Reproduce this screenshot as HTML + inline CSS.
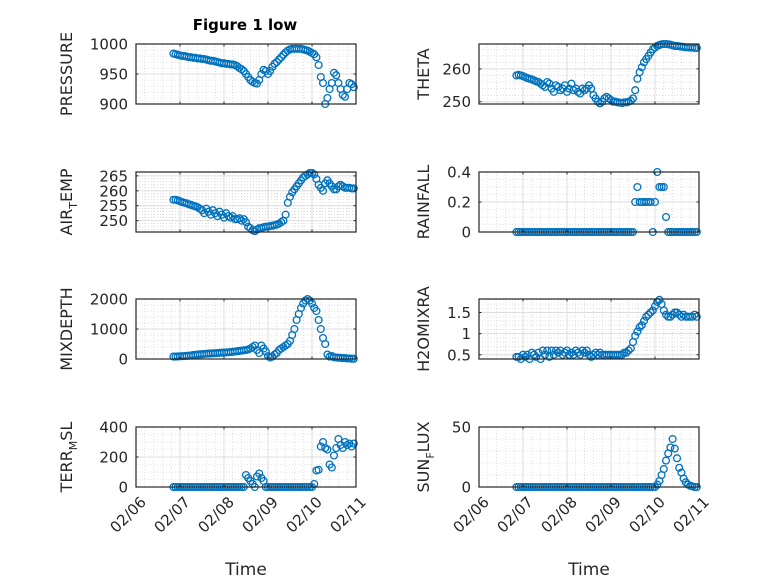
<!DOCTYPE html>
<html><head><meta charset="utf-8">
<style>
body{margin:0;background:#fff;}
svg{display:block;font-family:"Liberation Sans",sans-serif;}
.tk{font-family:"DejaVu Sans","Liberation Sans",sans-serif;}
</style></head>
<body>
<svg id="fig" width="778" height="583" viewBox="0 0 778 583">
<rect width="778" height="583" fill="#fff"/>
<text x="245" y="30" text-anchor="middle" font-size="15" font-weight="bold" fill="#000" class="tk">Figure 1 low</text>
</svg>
<script>
const times=[6.85,6.90,6.95,7.00,7.05,7.10,7.15,7.20,7.25,7.30,
7.35,7.40,7.45,7.50,7.55,7.60,7.65,7.70,7.75,7.80,
7.85,7.90,7.95,8.00,8.05,8.10,8.15,8.20,8.25,8.30,
8.35,8.40,8.45,8.50,8.55,8.60,8.65,8.70,8.75,8.80,
8.85,8.90,8.95,9.00,9.05,9.10,9.15,9.20,9.25,9.30,
9.35,9.40,9.45,9.50,9.55,9.60,9.65,9.70,9.75,9.80,
9.85,9.90,9.95,10.00,10.05,10.10,10.15,10.20,10.25,10.30,
10.35,10.40,10.45,10.50,10.55,10.60,10.65,10.70,10.75,10.80,
10.85,10.90,10.95];
const pressure=[984,983,982,981,980,980,979,978,978,977,
977,976,976,975,975,974,973,972,972,971,
970,969,968,968,967,967,966,966,965,963,
960,958,955,950,945,940,937,935,934,940,
950,957,955,950,955,962,967,970,974,978,
982,986,989,991,992,992,992,992,992,991,
990,989,987,985,983,978,965,945,935,900,
910,925,935,952,948,935,925,915,912,925,
935,933,928];
const theta=[258,258.2,258,257.8,257.5,257.2,257,256.8,256.5,256.2,
256,255.5,255,254.5,256,255.5,254,253,255,254.5,
253.5,254,255,253,254,255.5,253.5,254,253,252.5,
254,253.5,254,255,254,252,251,250,249.5,250,
251,251.5,251,250.5,250,250,249.8,249.7,249.6,249.8,
249.8,250,250.3,251,253.5,257,259,260.5,262,263,
264,265,266,266.5,267,267.3,267.5,267.6,267.6,267.5,
267.4,267.2,267,267,266.9,266.8,266.7,266.6,266.6,266.5,
266.5,266.4,266.4];
const airTemp=[257,257,256.8,256.5,256.2,256,255.8,255.5,255.3,255,
254.8,254.5,254,253.5,252.5,254,253,252,253.5,252.5,
251.5,253,252,251,252.5,251.5,251,251.5,250.5,250.5,
250.8,250,250.5,249.5,248,247.5,246.8,246.5,247,247.5,
247.5,247.8,248,248,248.2,248.3,248.5,248.7,249,249.5,
250,252,256,258,259.5,260.5,261.5,262.5,263.5,264.5,
265,265.5,266,266,265.5,264,262,261,260,262.5,
263.5,262.5,261.5,260.5,260.5,261.5,262,261.5,261,261,
261,260.8,260.8];
const rainfall=[0,0,0,0,0,0,0,0,0,0,
0,0,0,0,0,0,0,0,0,0,
0,0,0,0,0,0,0,0,0,0,
0,0,0,0,0,0,0,0,0,0,
0,0,0,0,0,0,0,0,0,0,
0,0,0,0,0.2,0.3,0.2,0.2,0.2,0.2,
0.2,0.2,0,0.2,0.4,0.3,0.3,0.3,0.1,0,
0,0,0,0,0,0,0,0,0,0,
0,0,0];
const mixDepth=[80,80,85,90,95,100,105,110,120,130,
140,150,155,160,170,175,180,185,190,195,
200,205,210,215,220,225,230,240,250,260,
270,280,290,300,320,350,400,450,300,200,
450,350,250,100,50,80,150,200,300,350,
400,450,500,600,800,1000,1300,1500,1700,1850,
1950,2000,1950,1850,1700,1600,1300,1000,700,500,
150,80,100,60,50,40,40,30,30,20,
20,10,10];
const h2oMix=[0.45,0.45,0.4,0.5,0.45,0.5,0.4,0.55,0.5,0.45,
0.55,0.4,0.6,0.5,0.6,0.45,0.6,0.5,0.6,0.55,
0.6,0.5,0.55,0.6,0.5,0.55,0.5,0.6,0.55,0.5,
0.6,0.55,0.6,0.5,0.45,0.5,0.55,0.5,0.55,0.5,
0.5,0.5,0.5,0.5,0.5,0.5,0.5,0.5,0.5,0.55,
0.55,0.6,0.65,0.8,0.95,1.05,1.15,1.2,1.3,1.4,
1.45,1.5,1.55,1.65,1.75,1.8,1.7,1.55,1.45,1.4,
1.4,1.45,1.5,1.5,1.45,1.4,1.45,1.4,1.4,1.4,
1.4,1.45,1.4];
const terrMsl=[0,0,0,0,0,0,0,0,0,0,
0,0,0,0,0,0,0,0,0,0,
0,0,0,0,0,0,0,0,0,0,
0,0,0,80,60,40,20,0,70,90,
60,40,0,0,0,0,0,0,0,0,
0,0,0,0,0,0,0,0,0,0,
0,0,0,0,20,110,115,270,300,260,
250,150,130,210,260,320,280,260,300,280,
290,270,290];
const sunFlux=[0,0,0,0,0,0,0,0,0,0,
0,0,0,0,0,0,0,0,0,0,
0,0,0,0,0,0,0,0,0,0,
0,0,0,0,0,0,0,0,0,0,
0,0,0,0,0,0,0,0,0,0,
0,0,0,0,0,0,0,0,0,0,
0,0,0,0,2,5,10,15,22,28,
33,40,32,24,16,12,7,4,2,1,
0.5,0,0];
const xTicks=[6,7,8,9,10,11];
const xTickLabels=["02/06","02/07","02/08","02/09","02/10","02/11"];

const NS="http://www.w3.org/2000/svg";
const svg=document.getElementById('fig');
function mk(tag,attrs,parent){const e=document.createElementNS(NS,tag);for(const k in attrs)e.setAttribute(k,attrs[k]);(parent||svg).appendChild(e);return e;}

const panels=[
 {name:'pressure',data:pressure,x0:136,y0:44,ylim:[900,1000],ticks:[900,950,1000],labels:['900','950','1000'],minor:10,label:['PRESSURE']},
 {name:'theta',data:theta,x0:479,y0:44,ylim:[249.3,267.6],ticks:[250,260],labels:['250','260'],minor:2,label:['THETA']},
 {name:'air-temp',data:airTemp,x0:136,y0:172,ylim:[246.2,266.3],ticks:[250,255,260,265],labels:['250','255','260','265'],minor:1,label:['AIR','T','EMP']},
 {name:'rainfall',data:rainfall,x0:479,y0:172,ylim:[0,0.4],ticks:[0,0.2,0.4],labels:['0','0.2','0.4'],minor:0.05,label:['RAINFALL']},
 {name:'mixdepth',data:mixDepth,x0:136,y0:299,ylim:[0,2000],ticks:[0,1000,2000],labels:['0','1000','2000'],minor:200,label:['MIXDEPTH']},
 {name:'h2o-mix',data:h2oMix,x0:479,y0:299,ylim:[0.4,1.82],ticks:[0.5,1,1.5],labels:['0.5','1','1.5'],minor:0.1,label:['H2OMIXRA']},
 {name:'terr-msl',data:terrMsl,x0:136,y0:427,ylim:[0,400],ticks:[0,200,400],labels:['0','200','400'],minor:50,label:['TERR','M','SL'],bottom:true},
 {name:'sun-flux',data:sunFlux,x0:479,y0:427,ylim:[0,50],ticks:[0,50],labels:['0','50'],minor:10,label:['SUN','F','LUX'],bottom:true}
];
const W=220,H=60;
panels.forEach(p=>{
 const g=mk('g',{});
 
 
 const xs=t=>p.x0+(t-6)/5*W;
 const ys=v=>p.y0+H-(v-p.ylim[0])/(p.ylim[1]-p.ylim[0])*H;
 mk('rect',{x:p.x0,y:p.y0,width:W,height:H,fill:'#fff'},g);
 for(let t=6;t<=11.001;t+=0.2){mk('line',{x1:xs(t),x2:xs(t),y1:p.y0,y2:p.y0+H,stroke:'#c8c8c8','stroke-width':0.6,'stroke-dasharray':'1,2'},g);}
 let start=Math.ceil(p.ylim[0]/p.minor)*p.minor;
 for(let v=start;v<=p.ylim[1]+1e-9;v+=p.minor){mk('line',{x1:p.x0,x2:p.x0+W,y1:ys(v),y2:ys(v),stroke:'#c8c8c8','stroke-width':0.6,'stroke-dasharray':'1,2'},g);}
 xTicks.forEach(t=>mk('line',{x1:xs(t),x2:xs(t),y1:p.y0,y2:p.y0+H,stroke:'#dedede','stroke-width':1},g));
 p.ticks.forEach(v=>mk('line',{x1:p.x0,x2:p.x0+W,y1:ys(v),y2:ys(v),stroke:'#dedede','stroke-width':1},g));
 p.data.forEach((v,i)=>{
  const c=mk('circle',{cx:xs(times[i]),cy:ys(v),r:3.4,fill:'none',stroke:'#0072BD','stroke-width':1.3},g);
  
  
 });
 mk('rect',{x:p.x0,y:p.y0,width:W,height:H,fill:'none',stroke:'#262626','stroke-width':1.2},g);
 xTicks.forEach(t=>{mk('line',{x1:xs(t),x2:xs(t),y1:p.y0+H,y2:p.y0+H-2.5,stroke:'#262626'},g);mk('line',{x1:xs(t),x2:xs(t),y1:p.y0,y2:p.y0+2.5,stroke:'#262626'},g);});
 p.ticks.forEach((v,k)=>{
  mk('line',{x1:p.x0,x2:p.x0+2.5,y1:ys(v),y2:ys(v),stroke:'#262626'},g);
  mk('line',{x1:p.x0+W,x2:p.x0+W-2.5,y1:ys(v),y2:ys(v),stroke:'#262626'},g);
  const tx=mk('text',{x:p.x0-8,y:ys(v)+5.5,'text-anchor':'end','font-size':15,fill:'#262626',class:'tk'},g);
  tx.textContent=p.labels[k];
  
  
 });
 const lx=p.x0<300?p.x0-64:p.x0-50, ly=p.y0+H/2;
 const yl=mk('text',{x:lx,y:ly,'text-anchor':'middle','font-size':16,fill:'#262626',class:'tk',transform:`rotate(-90 ${lx} ${ly})`},g);
 
 
 if(p.label.length===1){yl.textContent=p.label[0];}
 else{
  const a=mk('tspan',{},yl);a.textContent=p.label[0];
  const b=mk('tspan',{dy:5,'font-size':11},yl);b.textContent=p.label[1];
  const c=mk('tspan',{dy:-5},yl);c.textContent=p.label[2];
 }
 if(p.bottom){
  xTicks.forEach((t,k)=>{
   const x=xs(t)+11,y=p.y0+H+16;
   const tx=mk('text',{x:x,y:y,'text-anchor':'end','font-size':15,fill:'#262626',class:'tk',transform:`rotate(-45 ${x} ${y})`},g);
   tx.textContent=xTickLabels[k];
   
   
  });
  const xt=mk('text',{x:p.x0+W/2,y:575,'text-anchor':'middle','font-size':17,fill:'#262626',class:'tk'},g);
  xt.textContent='Time';
  
  
 }
});
</script>
</body></html>
